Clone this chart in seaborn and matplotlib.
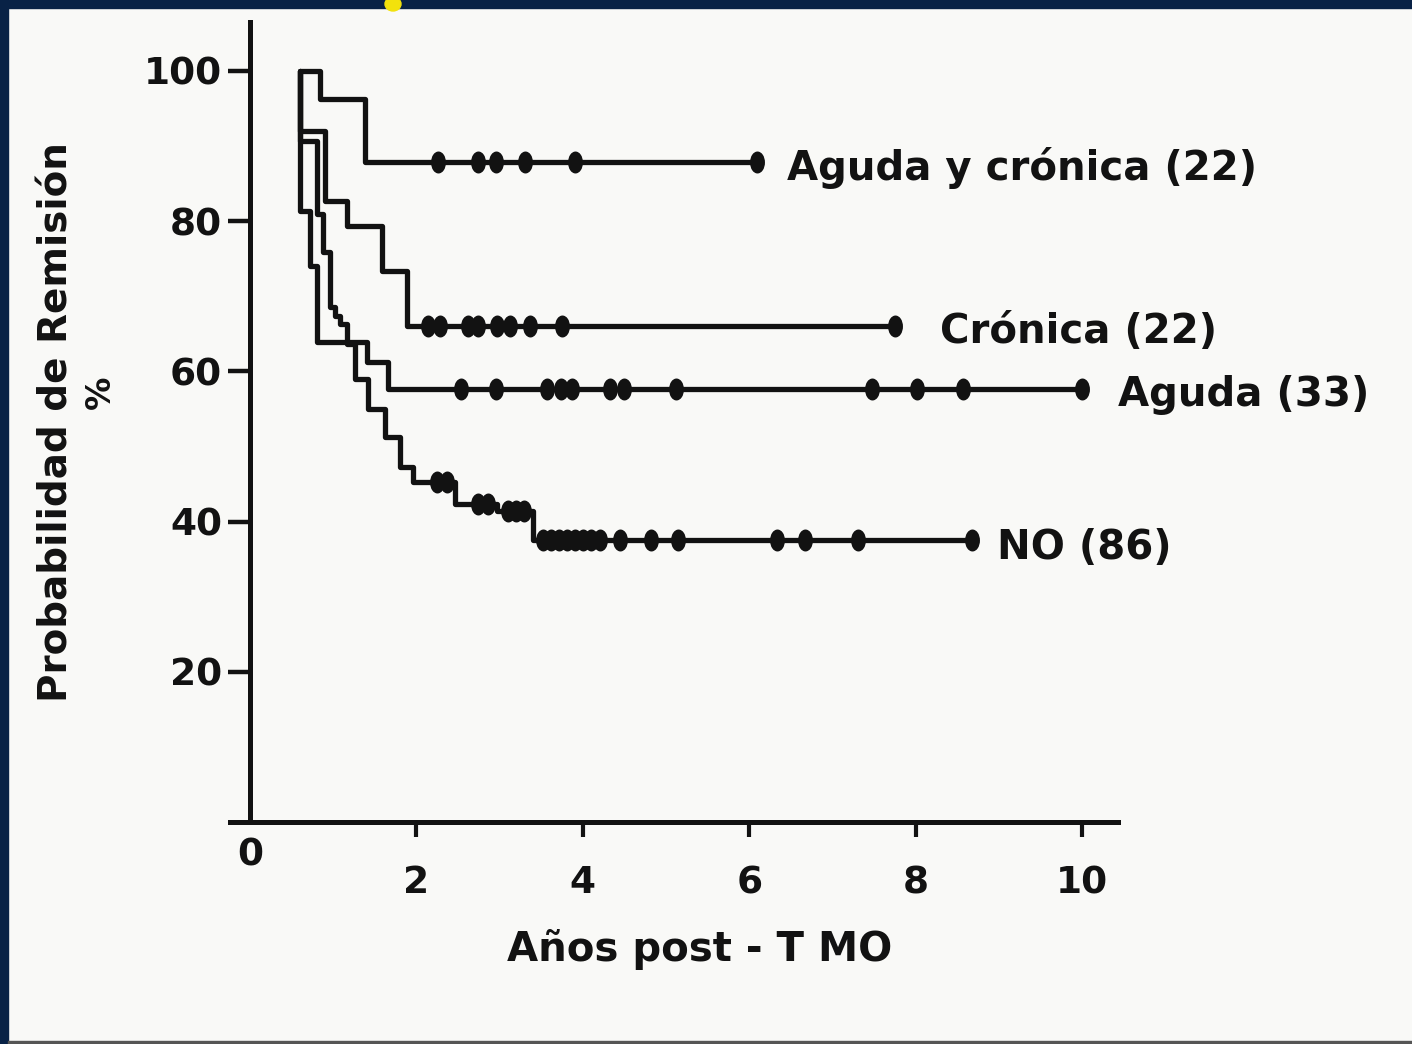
import numpy as np
import pandas as pd
import matplotlib
matplotlib.use("Agg")
import matplotlib.pyplot as plt
import seaborn as sns
from matplotlib.patches import Rectangle, Ellipse
from matplotlib.path import Path
from matplotlib.transforms import Affine2D

# ---------------- data ----------------
labels = ["Aguda y crónica (22)", "Crónica (22)", "Aguda (33)", "NO (86)"]

ayc_time = [0.6, 0.84, 1.38, 6.09]
ayc_surv = [100.0, 96.2, 87.9, 87.9]
ayc_cens = [2.26, 2.74, 2.96, 3.31, 3.91, 6.09]

cro_time = [0.6, 0.6, 0.90, 1.17, 1.59, 1.89, 7.75]
cro_surv = [100.0, 92.0, 82.7, 79.3, 73.3, 66.0, 66.0]
cro_cens = [2.14, 2.28, 2.62, 2.74, 2.97, 3.13, 3.37, 3.75, 7.75]

agu_time = [0.6, 0.6, 0.72, 0.805, 1.41, 1.66, 10.0]
agu_surv = [100.0, 81.4, 74.0, 63.9, 61.3, 57.7, 57.7]
agu_cens = [2.54, 2.96, 3.57, 3.74, 3.87, 4.33, 4.50, 5.12, 7.48, 8.02, 8.57, 10.0]

no_time = [0.6, 0.6, 0.81, 0.88, 0.96, 1.02, 1.08, 1.17, 1.26, 1.42, 1.62,
           1.80, 1.96, 2.46, 2.97, 3.40, 8.68]
no_surv = [100.0, 90.7, 81.0, 75.9, 68.6, 67.4, 66.3, 63.7, 59.0, 55.0, 51.3,
           47.3, 45.3, 42.4, 41.4, 37.5, 37.5]
no_cens = [2.25, 2.37, 2.74, 2.86, 3.10, 3.20, 3.29, 3.52, 3.62, 3.71, 3.81,
           3.91, 4.00, 4.10, 4.21, 4.45, 4.82, 5.14, 6.33, 6.67, 7.31, 8.68]

yticks = [20, 40, 60, 80, 100]
xticks = [2, 4, 6, 8, 10]
xlabel = "Años post - T MO"
ylabel = "Probabilidad de Remisión"

# ---------------- style ----------------
sns.set_theme(style="white")
plt.rcParams['font.family'] = ['DejaVu Sans']
plt.rcParams['font.weight'] = 'bold'
ink = '#121212'
paper = '#f9f9f7'

W, H = 1412, 1044
fig = plt.figure(figsize=(W / 100, H / 100), dpi=100, facecolor=paper)
ax = fig.add_axes([230 / W, 1 - 822 / H, (1118 - 230) / W, (822 - 22) / H])
ax.set_facecolor('none')

series = [(ayc_time, ayc_surv, ayc_cens), (cro_time, cro_surv, cro_cens),
          (agu_time, agu_surv, agu_cens), (no_time, no_surv, no_cens)]

dot = Path.unit_circle().transformed(Affine2D().scale(0.68, 1.0))

for times, surv, cens in series:
    df = pd.DataFrame({'t': times, 's': surv})
    sns.lineplot(data=df, x='t', y='s', ax=ax, color=ink, lw=3.8,
                 drawstyle='steps-post', estimator=None, sort=False,
                 legend=False)
    t = np.asarray(times)
    s = np.asarray(surv)
    ci = np.asarray(cens)
    cy = s[np.searchsorted(t, ci, side='right') - 1]
    sns.scatterplot(x=ci, y=cy, ax=ax, color=ink, s=250, marker=dot,
                    edgecolor=ink, linewidth=0, zorder=3, legend=False)

ax.set_xlim(-0.24, 10.43)
ax.set_ylim(0, 106.5)

for side in ['top', 'right']:
    ax.spines[side].set_visible(False)
ax.spines['left'].set_position(('data', 0))
for side in ['left', 'bottom']:
    ax.spines[side].set_color(ink)
    ax.spines[side].set_linewidth(3.6)

ax.set_yticks(yticks)
ax.set_yticklabels([str(v) for v in yticks])
ax.set_xticks(xticks)
ax.set_xticklabels([str(v) for v in xticks])
ax.tick_params(axis='y', direction='out', length=16, width=3.2, pad=4,
               labelsize=27, colors=ink, left=True)
ax.tick_params(axis='x', direction='out', length=11, width=3.0, pad=20,
               labelsize=27, colors=ink, bottom=True)
for lab in ax.get_xticklabels() + ax.get_yticklabels():
    lab.set_fontweight('bold')

ax.set_xlabel('')
ax.set_ylabel('')
ax.text(0, -4.4, '0', ha='center', va='center', fontsize=27,
        fontweight='bold', color=ink, clip_on=False)

# curve labels
lab_pos = [(6.45, 87.1), (8.29, 65.2), (10.43, 56.9), (8.98, 36.5)]
for txt, (lx, ly) in zip(labels, lab_pos):
    ax.text(lx, ly, txt, ha='left', va='center', fontsize=29,
            fontweight='bold', color=ink, clip_on=False)

# axis titles
fig.text(700 / W, 1 - 950 / H, xlabel, ha='center', va='center',
         fontsize=29, fontweight='bold', color=ink)
fig.text(57 / W, 1 - 422 / H, ylabel, ha='center', va='center',
         rotation=90, fontsize=28, fontweight='bold', color=ink)
fig.text(100 / W, 1 - 392 / H, '%', ha='center', va='center',
         rotation=90, fontsize=24, fontweight='bold', color=ink)

# slide frame remnants
navy = '#082246'
fig.patches.append(Rectangle((0, 1 - 8 / H), 1, 8 / H, transform=fig.transFigure,
                             color=navy, zorder=10))
fig.patches.append(Rectangle((0, 0), 8 / W, 1, transform=fig.transFigure,
                             color=navy, zorder=10))
fig.patches.append(Ellipse((393 / W, 1 - 4 / H), 16 / W, 14 / H,
                           transform=fig.transFigure, color='#f2e20c', zorder=11))
fig.patches.append(Rectangle((8 / W, 0), 1, 3 / H, transform=fig.transFigure,
                             color='#555555', zorder=10))

fig.savefig('out.png', dpi=100, facecolor=paper)
